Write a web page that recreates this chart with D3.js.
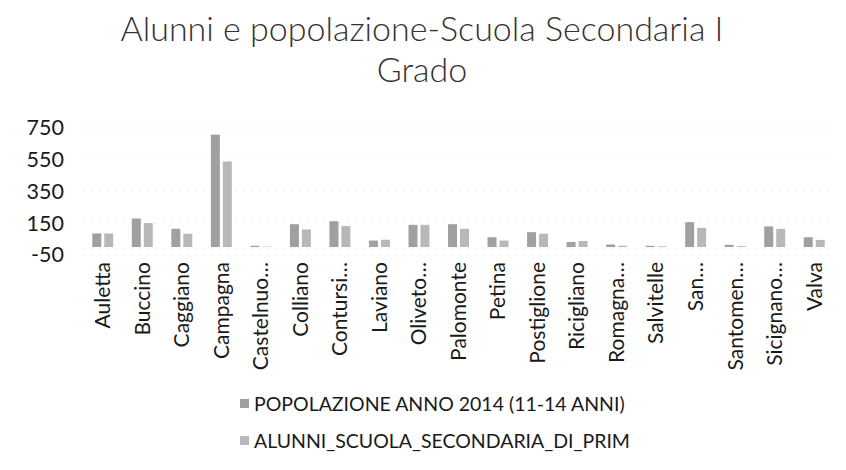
<!DOCTYPE html>
<html>
<head>
<meta charset="utf-8">
<script src="https://cdn.jsdelivr.net/npm/d3@7"></script>
<style>
  body { margin: 0; background: #fff; }
  svg { font-family: Lato, "Open Sans", sans-serif; }
</style>
</head>
<body>
<div id="chart"></div>
<script>
// data
var categories = ['Auletta', 'Buccino', 'Caggiano', 'Campagna', 'Castelnuo…', 'Colliano', 'Contursi…',
                  'Laviano', 'Oliveto…', 'Palomonte', 'Petina', 'Postiglione', 'Ricigliano', 'Romagna…',
                  'Salvitelle', 'San…', 'Santomen…', 'Sicignano…', 'Valva'];
var popolazione = [86, 180, 115, 708, 8, 144, 163, 41, 140, 144, 62, 94, 32, 16, 8, 157, 14, 130, 62];
var alunni = [86, 151, 84, 539, 3, 111, 132, 46, 140, 115, 41, 84, 38, 8, 5, 121, 6, 115, 45];
var seriesNames = ['POPOLAZIONE ANNO 2014 (11-14 ANNI)', 'ALUNNI_SCUOLA_SECONDARIA_DI_PRIM'];
var yTicks = [-50, 150, 350, 550, 750];
var colors = ['#a0a0a0', '#b8b8b8'];

var svg = d3.select('#chart').append('svg')
            .attr('width', 846)
            .attr('height', 470);

// ************ Title ************
svg.append('text')
   .attr('x', 422).attr('y', 41)
   .attr('text-anchor', 'middle')
   .style('font-size', '34px')
   .style('font-weight', 300)
   .style('fill', '#333')
   .text('Alunni e popolazione-Scuola Secondaria I');
svg.append('text')
   .attr('x', 422).attr('y', 82)
   .attr('text-anchor', 'middle')
   .style('font-size', '34px')
   .style('font-weight', 300)
   .style('fill', '#333')
   .text('Grado');

// ************ Scales ************
var x0 = d3.scaleBand()
           .domain(categories)
           .range([83, 834])
           .paddingInner(0.47)
           .paddingOuter(0.235);

var x1 = d3.scaleBand()
           .domain([0, 1])
           .range([0, x0.bandwidth()])
           .paddingInner(0.25);

var y = d3.scaleLinear()
          .domain([-50, 750])
          .range([255, 128]);

// gridlines
svg.append('g')
   .selectAll('line')
   .data(yTicks)
   .join('line')
   .attr('x1', 83).attr('x2', 834)
   .attr('y1', function(d) { return y(d); })
   .attr('y2', function(d) { return y(d); })
   .style('stroke', '#ececec')
   .style('stroke-width', 1)
   .style('stroke-dasharray', '2,6');

// y axis labels (plain hyphen for the minus, like the original)
var yAxis = svg.append('g')
               .attr('transform', 'translate(64,0)')
               .call(d3.axisLeft(y).tickValues(yTicks).tickSize(0).tickPadding(0)
                       .tickFormat(function(d) { return String(d); }));
yAxis.select('.domain').remove();
yAxis.selectAll('text')
     .style('font-size', '21.5px')
     .style('font-family', 'Lato, "Open Sans", sans-serif')
     .style('fill', '#1a1a1a');

// ************ Bars ************
var series = [popolazione, alunni];
var groups = svg.append('g')
                .selectAll('g')
                .data(categories)
                .join('g')
                .attr('transform', function(d) { return 'translate(' + x0(d) + ',0)'; });

groups.selectAll('rect')
      .data(function(d, i) { return series.map(function(s, k) { return { k: k, v: s[i] }; }); })
      .join('rect')
      .attr('x', function(d) { return x1(d.k); })
      .attr('width', x1.bandwidth())
      .attr('y', function(d) { return y(Math.max(0, d.v)); })
      .attr('height', function(d) { return Math.abs(y(d.v) - y(0)); })
      .style('fill', function(d) { return colors[d.k]; });

// category labels
var xAxis = svg.append('g')
               .attr('transform', 'translate(0,255)')
               .call(d3.axisBottom(x0).tickSize(0).tickPadding(0));
xAxis.select('.domain').remove();
xAxis.selectAll('text')
     .attr('transform', 'rotate(-90)')
     .attr('x', -7)
     .attr('y', 0)
     .attr('dy', '0.35em')
     .attr('text-anchor', 'end')
     .style('font-size', '21px')
     .style('font-family', 'Lato, "Open Sans", sans-serif')
     .style('fill', '#1a1a1a');

// ************ Legend ************
var legend = svg.append('g')
                .selectAll('g')
                .data(seriesNames)
                .join('g')
                .attr('transform', function(d, i) { return 'translate(240,' + (404 + i * 37) + ')'; });

legend.append('rect')
      .attr('x', 0).attr('y', -5)
      .attr('width', 9).attr('height', 9)
      .style('fill', function(d, i) { return colors[i]; });

legend.append('text')
      .attr('x', 14).attr('y', 0)
      .attr('dy', '0.35em')
      .style('font-size', '19.5px')
      .style('fill', '#1a1a1a')
      .text(function(d) { return d; });
</script>
</body>
</html>
